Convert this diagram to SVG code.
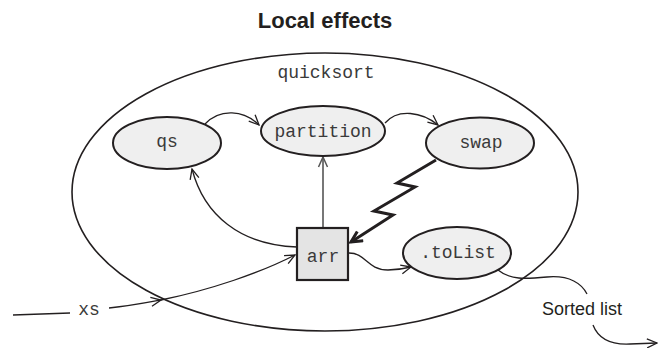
<svg xmlns="http://www.w3.org/2000/svg" width="658" height="348" viewBox="0 0 658 348">
<defs>
<style>
.node{fill:#efefef;stroke:#231f20;stroke-width:2}
.mono{font-family:"Liberation Mono","DejaVu Sans Mono",monospace;font-size:18px;fill:#3a3a3a;text-anchor:middle}
.sans{font-family:"Liberation Sans",Arial,sans-serif;fill:#231f20}
.edge{fill:none;stroke:#231f20;stroke-width:1.3}
</style>
<marker id="arr" markerUnits="userSpaceOnUse" markerWidth="14" markerHeight="12" refX="11" refY="5" orient="auto" viewBox="0 0 14 10">
<path d="M1,0.5 L11,5 L1,9.5" fill="none" stroke="#231f20" stroke-width="1.3"/>
</marker>
<marker id="arrg" markerUnits="userSpaceOnUse" markerWidth="14" markerHeight="12" refX="11" refY="5" orient="auto" viewBox="0 0 14 10">
<path d="M1,0.5 L11,5 L1,9.5" fill="none" stroke="#555" stroke-width="1.5"/>
</marker>
<marker id="arrb" markerUnits="userSpaceOnUse" markerWidth="16" markerHeight="14" refX="12" refY="6" orient="auto" viewBox="0 0 16 12">
<path d="M1,0.5 L12,6 L1,11.5" fill="none" stroke="#231f20" stroke-width="3"/>
</marker>
</defs>
<rect width="658" height="348" fill="#ffffff"/>
<text class="sans" x="325" y="28" font-size="22" font-weight="bold" text-anchor="middle">Local effects</text>
<g id="quicksort">
<ellipse cx="325" cy="192" rx="253" ry="139" fill="none" stroke="#231f20" stroke-width="1.6"/>
<text class="mono" x="326" y="78">quicksort</text>
</g>
<g id="connectors">
<path class="edge" d="M205,124 C220,108 244,110 259,125" marker-end="url(#arr)"/>
<path class="edge" d="M385,123 C398,108 422,112 438,125" marker-end="url(#arr)"/>
<path class="edge" d="M297,247 C240,245 204,215 192,169" marker-end="url(#arr)"/>
<path d="M323,228 L323,157" fill="none" stroke="#555" stroke-width="1.6" marker-end="url(#arrg)"/>
<path d="M436,160 L397,183 L415,187 L374,211 L393,215 L351,242" fill="none" stroke="#231f20" stroke-width="3" stroke-linejoin="miter" marker-end="url(#arrb)"/>
<path class="edge" d="M349,253 C366,253 367,270 388,270 C396,270 403,269 411,267" marker-end="url(#arr)"/>
<path class="edge" d="M13,315 L70,313"/>
<path class="edge" d="M109,308 C130,306 145,303 161,300" marker-end="url(#arr)"/>
<path class="edge" d="M161,300 C210,290 260,273 295,255" marker-end="url(#arr)"/>
<path class="edge" d="M498,270 C510,280 525,279 547,277 C570,275 582,284 587,294"/>
<path class="edge" d="M593,325 C598,338 610,345 630,344 L657,343" marker-end="url(#arr)"/>
</g>
<g id="qs">
<ellipse class="node" cx="167" cy="143" rx="54" ry="26"/>
<text class="mono" x="167" y="147">qs</text>
</g>
<g id="partition">
<ellipse class="node" cx="323" cy="131" rx="62" ry="25"/>
<text class="mono" x="323" y="137">partition</text>
</g>
<g id="swap">
<ellipse class="node" cx="480" cy="143" rx="54" ry="25.5"/>
<text class="mono" x="481" y="148">swap</text>
</g>
<g id="arr-node">
<rect x="297" y="228" width="51" height="52" fill="#e4e4e4" stroke="#231f20" stroke-width="2.2"/>
<text class="mono" x="323" y="262">arr</text>
</g>
<g id="toList">
<ellipse class="node" cx="457" cy="253" rx="54" ry="26"/>
<text class="mono" x="458" y="258">.toList</text>
</g>
<g id="labels">
<text class="mono" x="89" y="315">xs</text>
<text class="sans" x="542" y="315" font-size="18">Sorted list</text>
</g>
</svg>
